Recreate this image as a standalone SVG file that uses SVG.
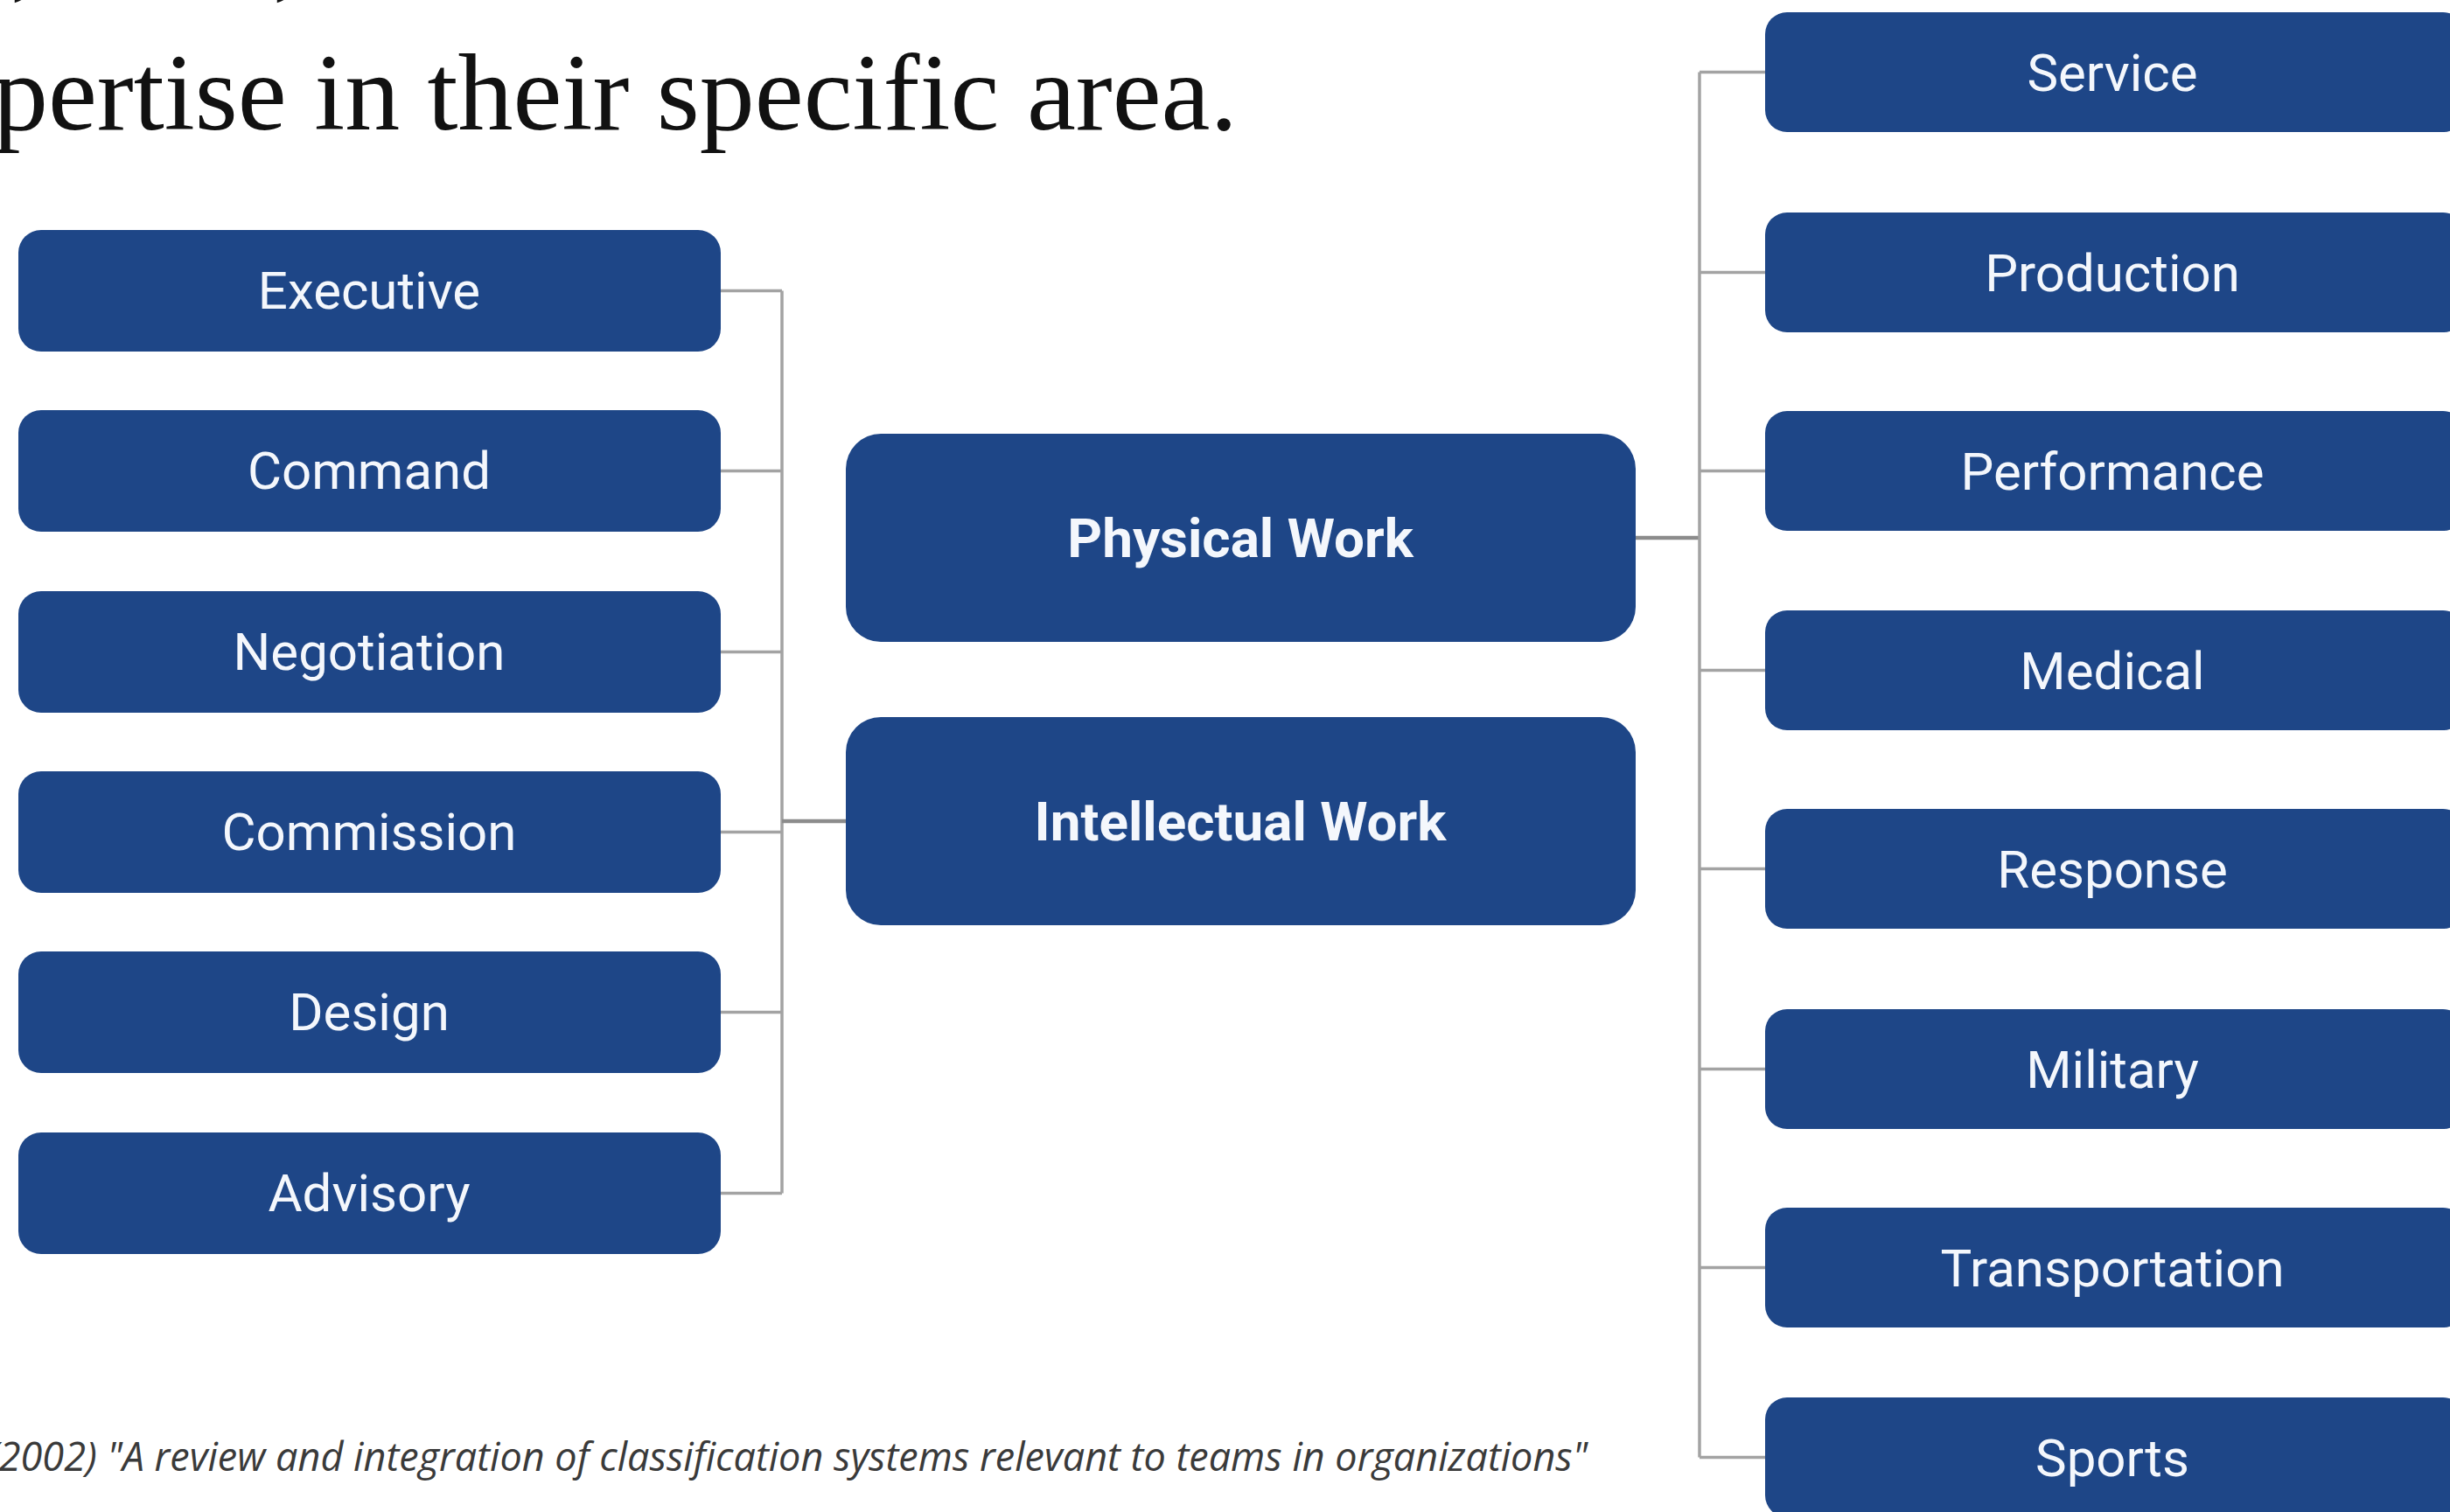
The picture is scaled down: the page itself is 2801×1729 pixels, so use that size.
<svg xmlns="http://www.w3.org/2000/svg" width="2801" height="1729" viewBox="0 0 2801 1729">
  <style>
    .box { fill: #1e4687; }
    .lbl { fill: #f4f7fc; font-family: Roboto, "Liberation Sans", sans-serif; font-size: 60px; text-anchor: middle; }
    .main { font-weight: 700; font-size: 62px; }
    .wire { stroke: #a3a3a3; stroke-width: 3.5; fill: none; }
    .trunk { stroke: #8c8c8c; stroke-width: 4.5; fill: none; }
    .title { font-family: "Liberation Serif", serif; font-size: 125px; fill: #111; }
    .cite { font-family: "Open Sans", "Liberation Sans", sans-serif; font-style: italic; font-size: 46px; fill: #3a3a3a; }
  </style>

  <rect width="2801" height="1729" fill="#ffffff"/>

  <!-- heading text (continuation of a paragraph) -->
  <text class="title" x="12" y="-16">,</text>
  <text class="title" x="312" y="-16">,</text>
  <text class="title" x="-8" y="148" textLength="1423" lengthAdjust="spacingAndGlyphs">pertise in their specific area.</text>

  <!-- connectors -->
  <g id="connectors">
    <!-- left side: six team types to the vertical bus, bus to Intellectual Work -->
    <path class="wire" d="M824 332.5H894M824 538.5H894M824 745.5H894M824 951.5H894M824 1157.5H894M824 1364.5H894"/>
    <path class="wire" d="M894 332.5V1364.5"/>
    <path class="trunk" d="M894 939H967"/>
    <!-- right side: Physical Work to the vertical bus, bus to eight team types -->
    <path class="trunk" d="M1870 615H1943"/>
    <path class="wire" d="M1943 82.5V1666.5"/>
    <path class="wire" d="M1943 82.5H2018M1943 311.5H2018M1943 538.5H2018M1943 766.5H2018M1943 993.5H2018M1943 1222.5H2018M1943 1449.5H2018M1943 1666.5H2018"/>
  </g>

  <!-- left column -->
  <g id="executive"><rect class="box" x="21" y="263" width="803" height="139" rx="26"/><text class="lbl" x="422" y="353">Executive</text></g>
  <g id="command"><rect class="box" x="21" y="469" width="803" height="139" rx="26"/><text class="lbl" x="422" y="559">Command</text></g>
  <g id="negotiation"><rect class="box" x="21" y="676" width="803" height="139" rx="26"/><text class="lbl" x="422" y="766">Negotiation</text></g>
  <g id="commission"><rect class="box" x="21" y="882" width="803" height="139" rx="26"/><text class="lbl" x="422" y="972">Commission</text></g>
  <g id="design"><rect class="box" x="21" y="1088" width="803" height="139" rx="26"/><text class="lbl" x="422" y="1178">Design</text></g>
  <g id="advisory"><rect class="box" x="21" y="1295" width="803" height="139" rx="26"/><text class="lbl" x="422" y="1385">Advisory</text></g>

  <!-- centre column -->
  <g id="physical-work"><rect class="box" x="967" y="496" width="903" height="238" rx="40"/><text class="lbl main" x="1418" y="637">Physical Work</text></g>
  <g id="intellectual-work"><rect class="box" x="967" y="820" width="903" height="238" rx="40"/><text class="lbl main" x="1418" y="961">Intellectual Work</text></g>

  <!-- right column -->
  <g id="service"><rect class="box" x="2018" y="14" width="800" height="137" rx="25"/><text class="lbl" x="2415" y="104">Service</text></g>
  <g id="production"><rect class="box" x="2018" y="243" width="800" height="137" rx="25"/><text class="lbl" x="2415" y="333">Production</text></g>
  <g id="performance"><rect class="box" x="2018" y="470" width="800" height="137" rx="25"/><text class="lbl" x="2415" y="560">Performance</text></g>
  <g id="medical"><rect class="box" x="2018" y="698" width="800" height="137" rx="25"/><text class="lbl" x="2415" y="788">Medical</text></g>
  <g id="response"><rect class="box" x="2018" y="925" width="800" height="137" rx="25"/><text class="lbl" x="2415" y="1015">Response</text></g>
  <g id="military"><rect class="box" x="2018" y="1154" width="800" height="137" rx="25"/><text class="lbl" x="2415" y="1244">Military</text></g>
  <g id="transportation"><rect class="box" x="2018" y="1381" width="800" height="137" rx="25"/><text class="lbl" x="2415" y="1471">Transportation</text></g>
  <g id="sports"><rect class="box" x="2018" y="1598" width="800" height="137" rx="25"/><text class="lbl" x="2415" y="1688">Sports</text></g>

  <!-- source line -->
  <text class="cite" x="-14" y="1682" textLength="1829" lengthAdjust="spacingAndGlyphs">(2002) "A review and integration of classification systems relevant to teams in organizations"</text>
</svg>
